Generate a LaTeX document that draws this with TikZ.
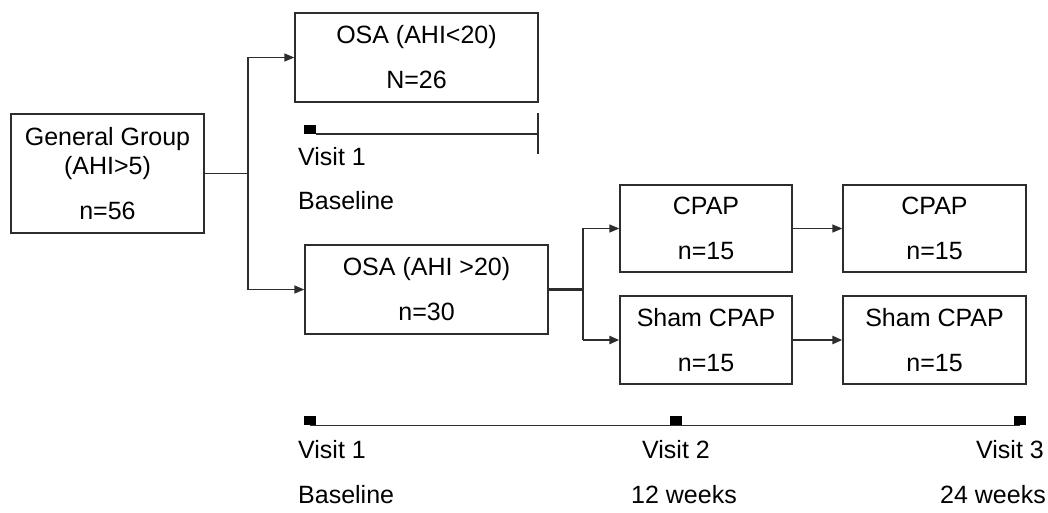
\documentclass[tikz,border=0pt]{standalone}
\usepackage{fontspec}
\setmainfont{Liberation Sans}
\usetikzlibrary{arrows.meta}
\definecolor{linec}{RGB}{45,45,45}
\begin{document}
\begin{tikzpicture}[x=1pt,y=-1pt,
  every node/.style={font=\fontsize{25}{29}\selectfont, text=black},
  box/.style={draw=linec, line width=1.3pt, rectangle, inner sep=0pt, align=center},
  thin/.style={draw=linec, line width=1.3pt},
  thick2/.style={draw=linec, line width=2.3pt},
  arr/.style={-{Triangle[length=10pt,width=8pt]}},
  mk/.style={fill=black, draw=none, minimum width=12pt, minimum height=9pt, inner sep=0pt, rectangle},
  lbl/.style={inner sep=0pt}
]
\useasboundingbox (0,0) rectangle (1048,512);
\fill[white] (0,0) rectangle (1048,512);

% boxes
\node[box, minimum width=193pt, minimum height=119pt] (gen) at (107.5,173.5) {General Group\\(AHI>5)\\[16pt]n=56};
\node[box, minimum width=243pt, minimum height=89pt] (osa1) at (416.5,57.5) {OSA (AHI<20)\\[16pt]N=26};
\node[box, minimum width=243pt, minimum height=89pt] (osa2) at (426.5,289.5) {OSA (AHI >20)\\[16pt]n=30};
\node[box, minimum width=172pt, minimum height=87pt] (cpap1) at (706,228.5) {CPAP\\[16pt]n=15};
\node[box, minimum width=172pt, minimum height=88pt] (sham1) at (706,340) {Sham CPAP\\[16pt]n=15};
\node[box, minimum width=183pt, minimum height=87pt] (cpap2) at (934.5,228.5) {CPAP\\[16pt]n=15};
\node[box, minimum width=183pt, minimum height=88pt] (sham2) at (934.5,340) {Sham CPAP\\[16pt]n=15};

% connectors
\coordinate (j1) at (248,173.5);
\coordinate (j2) at (583,289.5);
\draw[thin] (gen.east) -- (j1);
\draw[thin, arr] (j1) |- (osa1.west);
\draw[thin, arr] (j1) |- (osa2.west);
\draw[thick2] (osa2.east) -- (j2);
\draw[thin, arr] (j2) |- (cpap1.west);
\draw[thin] (j2) -- (j2 |- sham1.west);
\draw[thick2, arr] (j2 |- sham1.west) -- (sham1.west);
\draw[thin, arr] (cpap1.east) -- (cpap2.west);
\draw[thick2, arr] (sham1.east) -- (sham2.west);

% upper timeline
\node[mk, anchor=south west] (u1) at (304,134) {};
\coordinate (uend) at (538,134);
\coordinate (utop) at (538,113);
\coordinate (ubot) at (538,154);
\draw[thin] (u1.south east) -- (uend);
\draw[thin] (utop) -- (ubot);
\node[lbl, anchor=west] (uv1) at (298,157) {Visit 1};
\node[lbl, anchor=west] (ub1) at (298,201) {Baseline};

% lower timeline
\node[mk, anchor=south west] (t1) at (304,425.5) {};
\node[mk, anchor=south] (t2) at (676,425.5) {};
\node[mk, anchor=south east] (t3) at (1026,425.5) {};
\draw[thin] (t1.south) -- (t3.south);
\node[lbl, anchor=west] (v1) at (298,450) {Visit 1};
\node[lbl, anchor=west] (b1) at (298,495) {Baseline};
\node[lbl] (v2) at (676,450) {Visit 2};
\node[lbl] (b2) at (684,495) {12 weeks};
\node[lbl, anchor=east] (v3) at (1044,450) {Visit 3};
\node[lbl, anchor=east] (b3) at (1046,495) {24 weeks};
\end{tikzpicture}
\end{document}
